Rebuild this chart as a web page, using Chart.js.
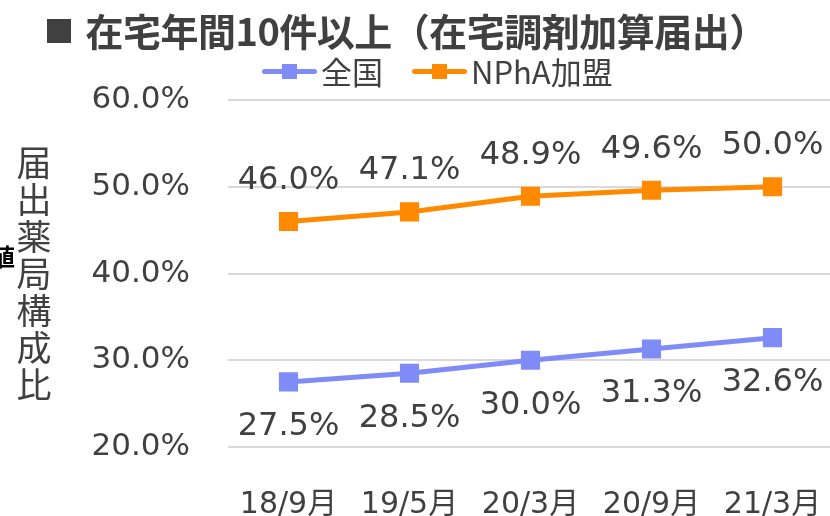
<!DOCTYPE html>
<html>
<head>
<meta charset="utf-8">
<script src="https://cdn.jsdelivr.net/npm/chart.js@4.4.1/dist/chart.umd.min.js"></script>
<style>
  html, body { margin: 0; padding: 0; background: #fff; }
  #wrap { position: relative; width: 830px; height: 516px; overflow: hidden; }
  #chart { position: absolute; left: 0; top: 0; }
  .txt { position: absolute; color: #404040; font-family: "Noto Sans CJK JP", "DejaVu Sans", sans-serif; white-space: nowrap; }
  #title { left: 44px; top: 5px; font-size: 38px; font-weight: bold; line-height: 50px; letter-spacing: -0.5px; }
  #title .sq { font-size: 30px; margin-right: 12px; position: relative; top: -4px; }
  .leg { top: 52px; font-size: 31px; line-height: 38px; display: flex; align-items: center; }
  .leg .ln { position: relative; width: 55px; height: 5px; margin-right: 4px; border-radius: 3px; }
  .leg .ln i { position: absolute; left: 20px; top: -5px; width: 15px; height: 15px; }
  #yTitle { left: 14px; top: 142px; width: 40px; font-size: 35px; line-height: 37px; text-align: center; white-space: normal; }
  #cut { left: -9px; top: 238px; font-size: 24px; font-weight: bold; color: #000; }
</style>
</head>
<body>
<div id="wrap">
  <canvas id="chart" width="848" height="516"></canvas>
  <div class="txt" id="title"><span class="sq">■</span>在宅年間10件以上（在宅調剤加算届出）</div>
  <div class="txt leg" style="left:262px"><span class="ln" style="background:#7f8cf7"><i style="background:#7f8cf7"></i></span>全国</div>
  <div class="txt leg" style="left:412px"><span class="ln" style="background:#ff8a00"><i style="background:#ff8a00"></i></span>NPhA加盟</div>
  <div class="txt" id="yTitle">届出薬局構成比</div>
  <div class="txt" id="cut">値</div>
</div>
<script>
// --- DATA ---
const periods = ["18/9月", "19/5月", "20/3月", "20/9月", "21/3月"];
const nationwide = [27.5, 28.5, 30.0, 31.3, 32.6];
const nphaMembers = [46.0, 47.1, 48.9, 49.6, 50.0];
const seriesNames = ["全国", "NPhA加盟"];

const TEXT = "#404040";

// value labels drawn next to each point
const valueLabels = {
  id: "valueLabels",
  afterDatasetsDraw(chart) {
    const ctx = chart.ctx;
    ctx.save();
    ctx.font = '32px "DejaVu Sans", sans-serif';
    ctx.fillStyle = TEXT;
    ctx.textAlign = "center";
    ctx.textBaseline = "middle";
    chart.data.datasets.forEach((ds, i) => {
      const meta = chart.getDatasetMeta(i);
      meta.data.forEach((pt, j) => {
        ctx.fillText(ds.data[j].toFixed(1) + "%", pt.x, pt.y + ds.labelOffset);
      });
    });
    ctx.restore();
  },
};

new Chart(document.getElementById("chart"), {
  type: "line",
  data: {
    labels: periods,
    datasets: [
      {
        label: seriesNames[0],
        data: nationwide,
        borderColor: "#7f8cf7",
        backgroundColor: "#7f8cf7",
        borderWidth: 5,
        pointStyle: "rect",
        pointRadius: 10,
        labelOffset: 45,
      },
      {
        label: seriesNames[1],
        data: nphaMembers,
        borderColor: "#ff8a00",
        backgroundColor: "#ff8a00",
        borderWidth: 5,
        pointStyle: "rect",
        pointRadius: 10,
        labelOffset: -41,
      },
    ],
  },
  options: {
    responsive: false,
    animation: false,
    layout: { padding: { top: 100, right: 0, left: 0, bottom: 0 } },
    plugins: { legend: { display: false }, tooltip: { enabled: false } },
    scales: {
      x: {
        offset: true,
        grid: { display: false },
        border: { display: false },
        ticks: {
          color: TEXT,
          padding: 4,
          maxRotation: 0,
          font: { family: '"DejaVu Sans", "Noto Sans CJK JP", sans-serif', size: 30, lineHeight: 3.1 },
        },
        afterFit: (s) => { s.height = 69; s.paddingLeft = 0; s.paddingRight = 0; },
      },
      y: {
        min: 20,
        max: 60,
        grid: { color: "#d9d9d9", lineWidth: 2, drawTicks: false },
        border: { display: false },
        ticks: {
          stepSize: 10,
          color: TEXT,
          padding: 38,
          font: { family: '"DejaVu Sans", sans-serif', size: 31 },
          callback: (v) => v.toFixed(1) + "%",
        },
        afterFit: (s) => { s.width = 228; },
      },
    },
  },
  plugins: [valueLabels],
});
</script>
</body>
</html>
